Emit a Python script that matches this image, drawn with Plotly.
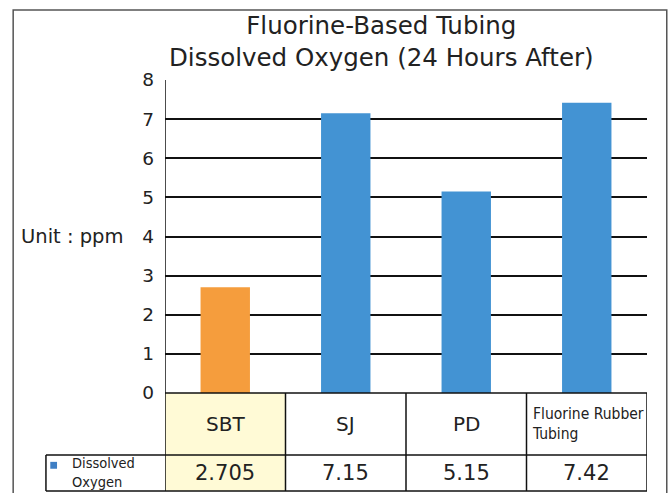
import plotly.graph_objects as go

categories = ["SBT", "SJ", "PD", "Fluorine Rubber<br>Tubing"]
values = [2.705, 7.15, 5.15, 7.42]
bar_colors = ["#F59D3D", "#4393D3", "#4393D3", "#4393D3"]
series_name = "Dissolved<br>Oxygen"
y_ticks = [0, 1, 2, 3, 4, 5, 6, 7, 8]
title_text = "Fluorine-Based Tubing<br>Dissolved Oxygen (24 Hours After)"
unit_label = "Unit : ppm"

FONT = "DejaVu Sans"
NARROW = "Liberation Sans Narrow, DejaVu Sans Condensed"
TXT = "#222222"

xs = list(range(len(categories)))

fig = go.Figure()
fig.add_trace(go.Bar(
    x=xs, y=values, marker=dict(color=bar_colors, line=dict(width=0)),
    width=0.41, showlegend=False, hoverinfo="skip",
))

H_ROW1 = -0.198
H_ROW2 = -0.313
LEG_X = -0.247

shapes = []
shapes.append(dict(type="rect", xref="x", yref="paper", x0=-0.5, x1=0.5, y0=H_ROW2, y1=0,
                   fillcolor="#FFFAD6", line=dict(width=0), layer="below"))
shapes.append(dict(type="rect", xref="paper", yref="paper", x0=-0.315, x1=1.041, y0=-0.4, y1=1.2236,
                   line=dict(color="#555555", width=1.5), fillcolor="rgba(0,0,0,0)"))
shapes.append(dict(type="line", xref="x", yref="y", x0=-0.5, x1=-0.5, y0=0, y1=8,
                   line=dict(color="#111111", width=1.5)))
for i in range(len(categories) + 1):
    shapes.append(dict(type="line", xref="x", yref="paper", x0=i - 0.5, x1=i - 0.5, y0=H_ROW2, y1=0,
                       line=dict(color="#111111", width=1.5)))
shapes.append(dict(type="line", xref="x", yref="paper", x0=-0.5, x1=len(categories) - 0.5, y0=0, y1=0,
                   line=dict(color="#111111", width=1.5)))
for yy in (H_ROW1, H_ROW2):
    shapes.append(dict(type="line", xref="paper", yref="paper", x0=LEG_X, x1=1, y0=yy, y1=yy,
                       line=dict(color="#111111", width=1.5)))
shapes.append(dict(type="line", xref="paper", yref="paper", x0=LEG_X, x1=LEG_X, y0=H_ROW2, y1=H_ROW1,
                   line=dict(color="#111111", width=1.5)))
shapes.append(dict(type="rect", xref="paper", yref="paper", x0=-0.238, x1=-0.224, y0=-0.242, y1=-0.220,
                   fillcolor="#3F7FC4", line=dict(width=0)))

annotations = []
annotations.append(dict(text=title_text, xref="paper", yref="paper", x=0.45, y=1.123,
                        showarrow=False, font=dict(family=FONT, size=24.5, color=TXT),
                        xanchor="center", yanchor="middle", align="center"))
annotations.append(dict(text=unit_label, xref="paper", yref="y", x=-0.083, y=4,
                        showarrow=False, font=dict(family=FONT, size=19.5, color=TXT), xanchor="right", yanchor="middle"))
for i, c in enumerate(categories):
    if "<br>" in c:
        annotations.append(dict(text=c, xref="x", yref="paper", x=i - 0.47, y=H_ROW1 / 2,
                                showarrow=False, align="left", xanchor="left", yanchor="middle",
                                font=dict(family=NARROW, size=15.5, color=TXT)))
    else:
        annotations.append(dict(text=c, xref="x", yref="paper", x=i, y=H_ROW1 / 2,
                                showarrow=False, xanchor="center", yanchor="middle",
                                font=dict(family=FONT, size=20, color=TXT)))
for i, v in enumerate(values):
    annotations.append(dict(text=str(v), xref="x", yref="paper", x=i, y=(H_ROW1 + H_ROW2) / 2,
                            showarrow=False, xanchor="center", yanchor="middle",
                            font=dict(family=FONT, size=21, color=TXT)))
annotations.append(dict(text=series_name, xref="paper", yref="paper", x=-0.198, y=(H_ROW1 + H_ROW2) / 2,
                        showarrow=False, align="left", xanchor="left", yanchor="middle",
                        font=dict(family=NARROW, size=14.5, color=TXT)))

fig.update_layout(
    width=669, height=493,
    margin=dict(l=165, r=22, t=80, b=100),
    paper_bgcolor="white", plot_bgcolor="white",
    shapes=shapes, annotations=annotations,
    xaxis=dict(range=[-0.5, len(categories) - 0.5], showticklabels=False, showgrid=False,
               zeroline=False, showline=False, fixedrange=True),
    yaxis=dict(range=[0, 8], tickvals=y_ticks, showgrid=True, gridcolor="#111111", gridwidth=1.5,
               zeroline=False, showline=False, ticks="", ticklabelstandoff=10,
               tickfont=dict(family=FONT, size=18.5, color=TXT), fixedrange=True),
    bargap=0.59,
)

fig.write_html("out.html")
